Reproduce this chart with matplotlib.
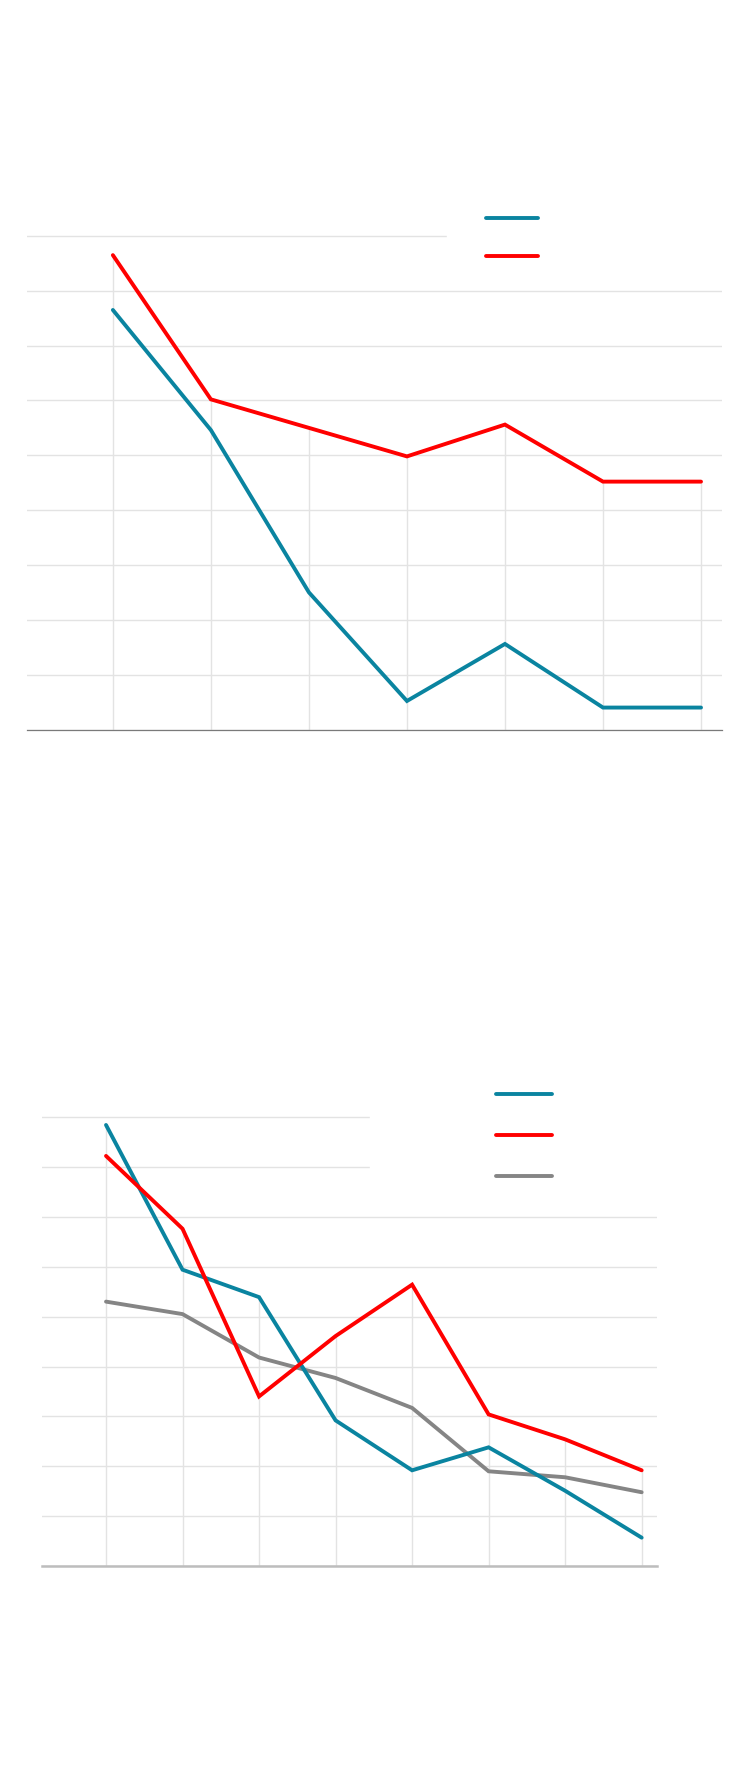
import numpy as np
import matplotlib
matplotlib.use("Agg")
from matplotlib import pyplot as plt
from matplotlib.lines import Line2D
from matplotlib.patches import Rectangle

# chart 1 data
top_x = np.arange(7)
top_blue = [7.65, 5.46, 2.50, 0.52, 1.56, 0.40, 0.40]
top_red_x = [0, 1, 3, 4, 5, 6]
top_red = [8.65, 6.02, 4.98, 5.56, 4.52, 4.52]

# chart 2 data
bot_x = np.arange(8)
bot_blue = [8.84, 5.94, 5.39, 2.92, 1.92, 2.38, 1.51, 0.57]
bot_red = [8.22, 6.76, 3.40, 4.61, 5.64, 3.04, 2.54, 1.92]
bot_gray = [5.30, 5.05, 4.18, 3.77, 3.17, 1.90, 1.78, 1.48]

BLUE = '#0a84a0'
RED = '#ff0000'
GRAY = '#858585'
GRID = '#e3e3e3'
LW = 2.8

W, H = 750, 1786
fig = plt.figure(figsize=(W / 100, H / 100), dpi=100)
fig.patch.set_facecolor('white')


def style(ax, xlim, axis_color, axis_lw):
    ax.set_xlim(*xlim)
    ax.set_ylim(0, 9.3)
    ax.set_yticks(range(0, 10))
    ax.set_xticks([])
    ax.yaxis.grid(True, color=GRID, lw=1)
    ax.set_axisbelow(True)
    for s in ['top', 'right', 'left']:
        ax.spines[s].set_visible(False)
    ax.spines['bottom'].set_color(axis_color)
    ax.spines['bottom'].set_linewidth(axis_lw)
    ax.spines['bottom'].set_zorder(5)
    ax.tick_params(left=False, labelleft=False, bottom=False, labelbottom=False)


# ---- top chart
ax1 = fig.add_axes([27.4 / W, 1 - 729.5 / H, 694.1 / W, 9.3 * 54.84 / H])
style(ax1, (-0.872, 6.209), '#7a7a7a', 0.9)
tops = np.maximum(top_blue, np.interp(top_x, top_red_x, top_red))
ax1.vlines(top_x, 0, tops, color=GRID, lw=1, zorder=1)
ax1.add_patch(Rectangle((0.604, 8.7), 0.5, 0.8, transform=ax1.get_yaxis_transform(),
                        color='white', zorder=1.5, clip_on=False))
ax1.plot(top_x, top_blue, color=BLUE, lw=LW, solid_capstyle='round', solid_joinstyle='miter', zorder=3)
ax1.plot(top_red_x, top_red, color=RED, lw=LW, solid_capstyle='round', solid_joinstyle='miter', zorder=3)
h1 = [Line2D([], [], color=BLUE, lw=LW, solid_capstyle='round'),
      Line2D([], [], color=RED, lw=LW, solid_capstyle='round')]
ax1.legend(h1, [' ', ' '], loc='upper left', bbox_to_anchor=(485.6 / W, 1 - 211.5 / H),
           bbox_transform=fig.transFigure, frameon=False, borderpad=0, borderaxespad=0,
           handlelength=3.77, labelspacing=1.76, fontsize=10, handletextpad=0)

# ---- bottom chart
ax2 = fig.add_axes([42.2 / W, 1 - 1566.1 / H, 614.3 / W, 9.3 * 49.9 / H])
style(ax2, (-0.834, 7.194), '#bdbdbd', 1.8)
tops2 = np.max([bot_blue, bot_red, bot_gray], axis=0)
ax2.vlines(bot_x, 0, tops2, color=GRID, lw=1, zorder=1)
ax2.add_patch(Rectangle((0.534, 7.5), 0.5, 2.0, transform=ax2.get_yaxis_transform(),
                        color='white', zorder=1.5, clip_on=False))
ax2.plot(bot_x, bot_gray, color=GRAY, lw=LW, solid_capstyle='round', solid_joinstyle='miter', zorder=3)
ax2.plot(bot_x, bot_blue, color=BLUE, lw=LW, solid_capstyle='round', solid_joinstyle='miter', zorder=3)
ax2.plot(bot_x, bot_red, color=RED, lw=LW, solid_capstyle='round', solid_joinstyle='miter', zorder=3)
h2 = [Line2D([], [], color=BLUE, lw=LW, solid_capstyle='round'),
      Line2D([], [], color=RED, lw=LW, solid_capstyle='round'),
      Line2D([], [], color=GRAY, lw=LW, solid_capstyle='round')]
ax2.legend(h2, [' ', ' ', ' '], loc='upper left', bbox_to_anchor=(495.8 / W, 1 - 1087.5 / H),
           bbox_transform=fig.transFigure, frameon=False, borderpad=0, borderaxespad=0,
           handlelength=4.02, labelspacing=1.95, fontsize=10, handletextpad=0)

fig.savefig('out.png', dpi=100, facecolor='white')
